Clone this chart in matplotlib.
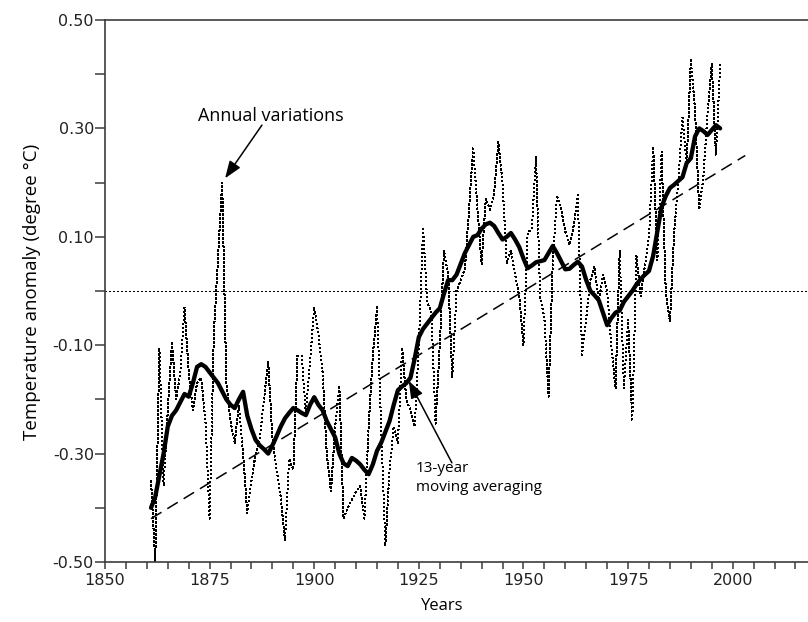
import numpy as np
import matplotlib
matplotlib.use('Agg')
import matplotlib.pyplot as plt
from matplotlib.ticker import FixedLocator, NullFormatter

# ---------------- data ----------------
YEARS = list(range(1861, 1998))

ANNUAL = [
    -0.35, -0.50, -0.105, -0.36, -0.22, -0.093, -0.20, -0.15, -0.03, -0.15,   # 1861-1870
    -0.22, -0.17, -0.16, -0.24, -0.42, -0.08, 0.06, 0.20, -0.17, -0.24,       # 1871-1880
    -0.28, -0.21, -0.30, -0.41, -0.35, -0.30, -0.27, -0.20, -0.13, -0.27,     # 1881-1890
    -0.33, -0.38, -0.46, -0.31, -0.33, -0.12, -0.12, -0.225, -0.13, -0.03,    # 1891-1900
    -0.08, -0.15, -0.30, -0.37, -0.25, -0.175, -0.42, -0.40, -0.385, -0.37,   # 1901-1910
    -0.36, -0.42, -0.25, -0.12, -0.03, -0.25, -0.47, -0.33, -0.25, -0.28,     # 1911-1920
    -0.105, -0.20, -0.22, -0.25, -0.10, 0.118, -0.02, -0.04, -0.245, -0.10,   # 1921-1930
    0.075, 0.03, -0.16, 0.0, 0.02, 0.04, 0.15, 0.266, 0.15, 0.05,             # 1931-1940
    0.17, 0.15, 0.18, 0.275, 0.20, 0.05, 0.075, 0.03, -0.01, -0.10,           # 1941-1950
    0.107, 0.115, 0.248, -0.01, -0.05, -0.195, 0.05, 0.177, 0.15, 0.11,       # 1951-1960
    0.085, 0.12, 0.177, -0.118, -0.05, 0.02, 0.045, -0.02, 0.03, 0.0,         # 1961-1970
    -0.10, -0.18, 0.075, -0.18, -0.053, -0.24, 0.065, -0.01, 0.045, 0.10,     # 1971-1980
    0.266, 0.057, 0.257, 0.0, -0.057, 0.107, 0.20, 0.32, 0.236, 0.426,        # 1981-1990
    0.334, 0.15, 0.21, 0.33, 0.42, 0.25, 0.417,                               # 1991-1997
]

SMOOTH = [
    -0.40, -0.38, -0.34, -0.30, -0.25, -0.23, -0.22, -0.205, -0.19, -0.195,     # 1861-1870
    -0.17, -0.14, -0.135, -0.14, -0.15, -0.16, -0.17, -0.185, -0.20, -0.21,     # 1871-1880
    -0.216, -0.20, -0.186, -0.23, -0.255, -0.275, -0.285, -0.292, -0.30, -0.285, # 1881-1890
    -0.268, -0.25, -0.235, -0.225, -0.216, -0.22, -0.225, -0.229, -0.21, -0.196, # 1891-1900
    -0.21, -0.22, -0.24, -0.255, -0.27, -0.30, -0.318, -0.323, -0.308, -0.313,  # 1901-1910
    -0.32, -0.33, -0.338, -0.32, -0.295, -0.28, -0.26, -0.24, -0.21, -0.183,    # 1911-1920
    -0.176, -0.17, -0.16, -0.125, -0.085, -0.07, -0.06, -0.05, -0.04, -0.032,   # 1921-1930
    -0.005, 0.02, 0.02, 0.03, 0.05, 0.07, 0.085, 0.10, 0.103, 0.115,            # 1931-1940
    0.123, 0.126, 0.12, 0.107, 0.095, 0.10, 0.107, 0.095, 0.081, 0.06,          # 1941-1950
    0.042, 0.047, 0.053, 0.055, 0.057, 0.07, 0.083, 0.07, 0.055, 0.04,          # 1951-1960
    0.041, 0.048, 0.054, 0.045, 0.02, 0.0, -0.008, -0.017, -0.04, -0.063,       # 1961-1970
    -0.05, -0.04, -0.036, -0.02, -0.01, 0.0, 0.012, 0.022, 0.03, 0.037,         # 1971-1980
    0.065, 0.11, 0.155, 0.175, 0.19, 0.196, 0.203, 0.21, 0.236, 0.245,          # 1981-1990
    0.285, 0.30, 0.295, 0.288, 0.297, 0.306, 0.30,                              # 1991-1997
]

TREND_YEARS = [1861, 2003]
TREND_VALUES = [-0.42, 0.25]

Y_MAJOR = [0.5, 0.3, 0.1, -0.1, -0.3, -0.5]
Y_LABELS = ['0.50', '0.30', '0.10', '-0.10', '-0.30', '-0.50']
Y_MINOR = [0.4, 0.2, 0.0, -0.2, -0.4]
X_MAJOR = [1850, 1875, 1900, 1925, 1950, 1975, 2000]
X_LABELS = ['1850', '1875', '1900', '1925', '1950', '1975', '2000']
X_MINOR = list(range(1855, 2016, 5))

assert len(ANNUAL) == len(YEARS) == len(SMOOTH)

# ---------------- figure ----------------
W, H = 808, 622
fig = plt.figure(figsize=(W / 100, H / 100), dpi=100)
ax = fig.add_axes([105 / W, (H - 562) / H, (W - 105) / W, (562 - 20) / H])
ax.set_xlim(1850, 2018)
ax.set_ylim(-0.5, 0.5)

spine_col = '#3c3c3c'
for side in ['left', 'bottom', 'top']:
    ax.spines[side].set_color(spine_col)
    ax.spines[side].set_linewidth(1.2)
ax.spines['right'].set_visible(False)

# zero reference line
ax.axhline(0, color='black', lw=0.8, ls=(0, (1.2, 1.8)), antialiased=False, zorder=1)

# annual variations (dotted)
ax.plot(YEARS, ANNUAL, color='black', lw=0.8, ls=(0, (1.0, 1.8)),
        antialiased=False, zorder=2)

# linear trend (dashed)
ax.plot(TREND_YEARS, TREND_VALUES, color='black', lw=1.1, ls=(0, (8, 4.5)), zorder=3)

# 13-year moving average (thick)
ax.plot(YEARS, SMOOTH, color='black', lw=3.1, solid_joinstyle='round',
        solid_capstyle='round', zorder=4)

# ticks
ax.yaxis.set_major_locator(FixedLocator(Y_MAJOR))
ax.set_yticklabels(Y_LABELS)
ax.yaxis.set_minor_locator(FixedLocator(Y_MINOR))
ax.xaxis.set_major_locator(FixedLocator(X_MAJOR))
ax.set_xticklabels(X_LABELS)
ax.xaxis.set_minor_locator(FixedLocator(X_MINOR))
ax.xaxis.set_minor_formatter(NullFormatter())

tick_font = 'DejaVu Sans'
ax.tick_params(axis='y', which='both', direction='out', length=7.5, width=1.1,
               color=spine_col, pad=0.5, labelsize=11.5)
ax.tick_params(axis='x', which='both', direction='out', length=5, width=1.1,
               color=spine_col, pad=3, labelsize=11.5)
for lab in ax.get_xticklabels() + ax.get_yticklabels():
    lab.set_fontfamily(tick_font)
    lab.set_color('#222222')

label_font = 'Open Sans'
ax.set_xlabel('Years', fontsize=12, family=label_font)
ax.set_ylabel('Temperature anomaly (degree \u00b0C)', fontsize=13.5, family=label_font)
ax.xaxis.set_label_coords((442 - 105) / (W - 105), (562 - 598) / (562 - 20))
ax.yaxis.set_label_coords((41 - 105) / (W - 105), 0.5 + (291 - 292) / (562 - 20))

# annotations
arrow = dict(arrowstyle='-|>,head_length=0.75,head_width=0.28', color='black',
             lw=1.1, mutation_scale=14, shrinkA=0, shrinkB=0)
ax.text(1889.7, 0.322, 'Annual variations', ha='center', va='center',
        fontsize=13, family=label_font)
ax.annotate('', xy=(1878.7, 0.208), xytext=(1887.5, 0.306), arrowprops=arrow)
ax.text(1924.3, -0.345, '13-year\nmoving averaging', ha='left', va='center',
        fontsize=11, family=label_font, linespacing=1.45)
ax.annotate('', xy=(1922.6, -0.166), xytext=(1932.9, -0.317), arrowprops=arrow)

fig.savefig('out.png', dpi=100)
